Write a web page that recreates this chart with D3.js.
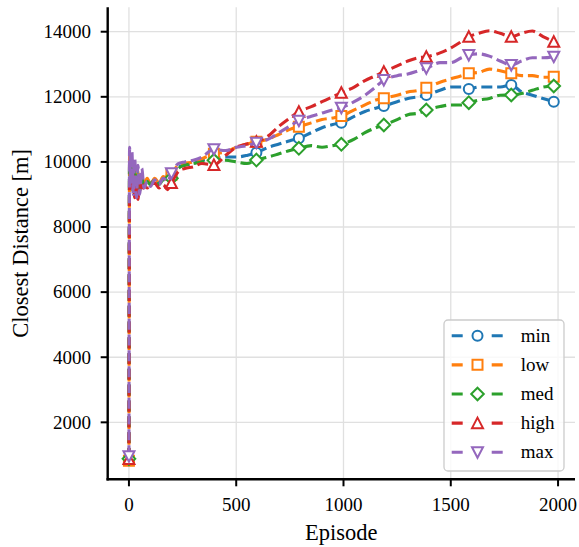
<!DOCTYPE html>
<html>
<head>
<meta charset="utf-8">
<script src="https://cdn.jsdelivr.net/npm/d3@7"></script>
<style>
html,body{margin:0;padding:0;background:#fff;}
svg{display:block;font-family:"Liberation Serif","Times New Roman",serif;}
</style>
</head>
<body>
<svg id="chart" width="579" height="547"></svg>
<script>
// ---- data ----
const episodes = [0,3,8,14,20,27,35,42,50,60,70,85,100,120,140,160,180,198,230,260,300,340,396,450,500,550,594,650,700,750,792,850,900,950,990,1050,1100,1150,1188,1250,1300,1350,1386,1450,1500,1550,1584,1630,1680,1730,1782,1830,1880,1930,1980];
const minVals  = [870,10100,9350,9900,9150,9800,9050,9650,9150,9550,9300,9450,9350,9450,9350,9500,9450,9550,9850,9900,9950,10050,10100,10150,10150,10200,10280,10450,10550,10650,10725,10900,11050,11150,11205,11400,11550,11650,11717,11850,11950,12000,12055,12200,12300,12300,12240,12300,12300,12300,12362,12150,12050,11950,11850];
const lowVals  = [820,10200,9400,10000,9100,9900,9000,9700,9100,9600,9300,9500,9300,9500,9350,9550,9450,9600,9900,9950,10000,10100,10250,10300,10450,10550,10621,10700,10850,11000,11082,11200,11300,11350,11410,11600,11750,11900,11954,12050,12150,12200,12280,12450,12550,12650,12722,12750,12850,12800,12722,12650,12650,12600,12618];
const medVals  = [880,10000,9300,9800,9000,9700,8950,9600,9100,9500,9250,9400,9300,9450,9300,9450,9400,9500,9800,9900,9950,10000,10050,10050,10000,9950,10058,10150,10250,10350,10418,10500,10450,10500,10541,10700,10900,11050,11134,11300,11450,11500,11595,11700,11750,11750,11819,11900,11950,12050,12055,12100,12200,12300,12332];
const highVals = [870,9300,9700,9200,9600,8900,9500,8850,9400,9100,9300,9200,9300,9350,9200,9300,9150,9350,9700,9800,9850,9950,9905,10200,10450,10550,10620,10800,11100,11350,11542,11700,11850,12000,12126,12300,12500,12650,12771,12950,13100,13200,13232,13350,13500,13700,13846,13950,14030,13950,13846,13950,14020,13850,13693];
const maxVals  = [960,10450,9300,10300,9000,10100,8900,9900,9000,9800,9200,9400,9250,9450,9300,9500,9400,9650,9950,10000,10050,10150,10387,10350,10450,10500,10590,10700,10900,11100,11266,11400,11500,11600,11665,11850,12050,12300,12516,12650,12700,12800,12875,13050,13050,13200,13284,13320,13250,13100,12977,13100,13200,13200,13232];
const seriesNames = ["min","low","med","high","max"];
const seriesColors = ["#1f77b4","#ff7f0e","#2ca02c","#d62728","#9467bd"];
const seriesMarkers = ["circle","square","diamond","triUp","triDown"];
const markerEvery = 198;
const xTicks = [0,500,1000,1500,2000];
const yTicks = [2000,4000,6000,8000,10000,12000,14000];
const xLabel = "Episode";
const yLabel = "Closest Distance [m]";

const seriesVals = [minVals, lowVals, medVals, highVals, maxVals];

// ---- layout ----
const svg = d3.select("#chart");
const pLeft = 107.7, pRight = 575, pTop = 7.3, pBottom = 479.3;
const x = d3.scaleLinear().domain([-99, 2079]).range([pLeft, pRight]);
const y = d3.scaleLinear().domain([250, 14750]).range([pBottom, pTop]);

// grid
const grid = svg.append("g");
grid.selectAll(".gx").data(xTicks).enter().append("line")
  .attr("x1", d => x(d)).attr("x2", d => x(d))
  .attr("y1", pTop).attr("y2", pBottom)
  .attr("stroke", "#e0e0e0").attr("stroke-width", 1.3);
grid.selectAll(".gy").data(yTicks).enter().append("line")
  .attr("x1", pLeft).attr("x2", pRight)
  .attr("y1", d => y(d)).attr("y2", d => y(d))
  .attr("stroke", "#e0e0e0").attr("stroke-width", 1.3);

// marker drawing
function markerPath(type) {
  const s = 5;
  switch (type) {
    case "square": return `M${-s},${-s}H${s}V${s}H${-s}Z`;
    case "diamond": { const r = 6.3; return `M0,${-r}L${r},0L0,${r}L${-r},0Z`; }
    case "triUp": return `M0,${-5.5}L${5.5},${5}L${-5.5},${5}Z`;
    case "triDown": return `M0,${5.5}L${5.5},${-5}L${-5.5},${-5}Z`;
    default: return "";
  }
}
function drawMarker(g, type, color, cx, cy) {
  if (type === "circle") {
    g.append("circle").attr("cx", cx).attr("cy", cy).attr("r", 5)
      .attr("fill", "#fff").attr("stroke", color).attr("stroke-width", 2);
  } else {
    g.append("path").attr("d", markerPath(type))
      .attr("transform", `translate(${cx},${cy})`)
      .attr("fill", "#fff").attr("stroke", color).attr("stroke-width", 2)
      .attr("stroke-linejoin", "miter");
  }
}

// lines
const line = d3.line().x(d => x(d[0])).y(d => y(d[1])).curve(d3.curveMonotoneX);
const plot = svg.append("g");
seriesVals.forEach((vals, i) => {
  const pts = episodes.map((e, k) => [e, vals[k]]);
  const g = plot.append("g");
  g.append("path").datum(pts).attr("d", line)
    .attr("fill", "none").attr("stroke", seriesColors[i])
    .attr("stroke-width", 3.1).attr("stroke-dasharray", "11,4.8")
    .attr("stroke-linejoin", "round");
  pts.filter(p => p[0] % markerEvery === 0).forEach(p => {
    drawMarker(g, seriesMarkers[i], seriesColors[i], x(p[0]), y(p[1]));
  });
});

// axes
const axG = svg.append("g");
axG.append("line").attr("x1", pLeft).attr("x2", pLeft).attr("y1", pTop).attr("y2", pBottom + 1.2)
  .attr("stroke", "#000").attr("stroke-width", 2.4);
axG.append("line").attr("x1", pLeft - 1.2).attr("x2", pRight).attr("y1", pBottom).attr("y2", pBottom)
  .attr("stroke", "#000").attr("stroke-width", 2.4);
xTicks.forEach(t => {
  axG.append("line").attr("x1", x(t)).attr("x2", x(t)).attr("y1", pBottom).attr("y2", pBottom + 7)
    .attr("stroke", "#000").attr("stroke-width", 2);
  axG.append("text").attr("x", x(t)).attr("y", 510.5).attr("text-anchor", "middle")
    .attr("font-size", 19).attr("fill", "#000").text(t);
});
yTicks.forEach(t => {
  axG.append("line").attr("x1", pLeft - 7).attr("x2", pLeft).attr("y1", y(t)).attr("y2", y(t))
    .attr("stroke", "#000").attr("stroke-width", 2);
  axG.append("text").attr("x", 91).attr("y", y(t) + 6.3).attr("text-anchor", "end")
    .attr("font-size", 19).attr("fill", "#000").text(t);
});
axG.append("text").attr("x", (pLeft + pRight) / 2).attr("y", 540).attr("text-anchor", "middle")
  .attr("font-size", 22.5).attr("fill", "#000").text(xLabel);
axG.append("text").attr("transform", `translate(27.5,${(pTop + pBottom) / 2}) rotate(-90)`)
  .attr("text-anchor", "middle").attr("font-size", 22.5).attr("fill", "#000").text(yLabel);

// legend
const lg = svg.append("g");
lg.append("rect").attr("x", 444).attr("y", 320).attr("width", 120).attr("height", 151)
  .attr("rx", 4).attr("fill", "#fff").attr("fill-opacity", 0.8)
  .attr("stroke", "#cccccc").attr("stroke-width", 1.3);
seriesNames.forEach((name, i) => {
  const ry = 335.7 + i * 29.15;
  lg.append("line").attr("x1", 451.7).attr("x2", 503.3).attr("y1", ry).attr("y2", ry)
    .attr("stroke", seriesColors[i]).attr("stroke-width", 3.1).attr("stroke-dasharray", "11,29");
  drawMarker(lg, seriesMarkers[i], seriesColors[i], 477.5, ry);
  lg.append("text").attr("x", 520.7).attr("y", ry + 6).attr("font-size", 19).attr("fill", "#000").text(name);
});
</script>
</body>
</html>
